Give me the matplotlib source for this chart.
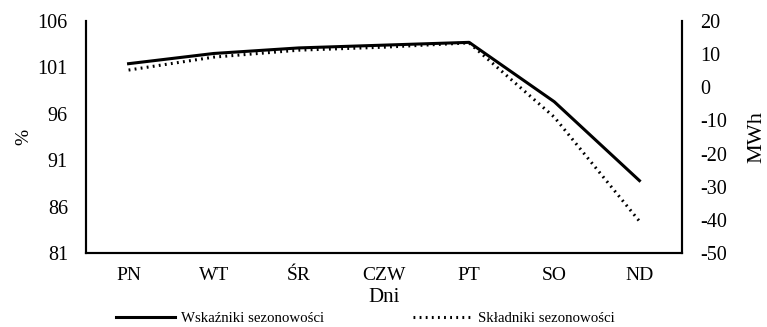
import matplotlib.pyplot as plt
from matplotlib.lines import Line2D

days = ['PN', 'WT', 'ŚR', 'CZW', 'PT', 'SO', 'ND']
wskazniki = [101.4, 102.5, 103.1, 103.4, 103.7, 97.3, 88.8]   # %
skladniki = [5.2, 9.1, 11.2, 12.1, 13.4, -9.0, -40.4]          # MWh

plt.rcParams['font.family'] = ['Liberation Serif', 'DejaVu Serif']
plt.rcParams['axes.unicode_minus'] = False

fig = plt.figure(figsize=(7.67, 3.27), dpi=100)
ax = fig.add_axes([86 / 767, 74 / 327, 596 / 767, 232 / 327])
ax2 = ax.twinx()

x = list(range(len(days)))
dotted = (0, (0.6, 1.4))
ax.plot(x, wskazniki, color='black', lw=2.2)
ax2.plot(x, skladniki, color='black', lw=2.2, linestyle=dotted)

ax.set_ylim(81, 106)
ax.set_yticks(range(81, 107, 5))
ax2.set_ylim(-50, 20)
ax2.set_yticks(range(-50, 21, 10))
ax.set_xlim(-0.5, 6.5)
ax.set_xticks(x)
ax.set_xticklabels(days)

for a in (ax, ax2):
    a.spines['top'].set_visible(False)
    for s in ('left', 'right', 'bottom'):
        a.spines[s].set_linewidth(1.5)
    a.tick_params(length=0)
ax.tick_params(axis='x', pad=10, labelsize=14)
ax.tick_params(axis='y', pad=13, labelsize=14.5)
ax2.tick_params(axis='y', pad=13, labelsize=14.5)

ax.set_ylabel('%', fontsize=14, labelpad=4)
ax2.set_ylabel('MWh', fontsize=16, labelpad=15)
ax.set_xlabel('Dni', fontsize=15, labelpad=3)

handles = [Line2D([], [], color='black', lw=2.2),
           Line2D([], [], color='black', lw=2.2, linestyle=dotted)]
fig.legend(handles, ['Wskaźniki sezonowości', 'Składniki sezonowości'],
           loc='lower center', bbox_to_anchor=(0.476, -0.035), ncol=2, frameon=False,
           fontsize=10.7, handlelength=4.0, handletextpad=0.35, columnspacing=6.0)

fig.savefig('out.png', dpi=100)
